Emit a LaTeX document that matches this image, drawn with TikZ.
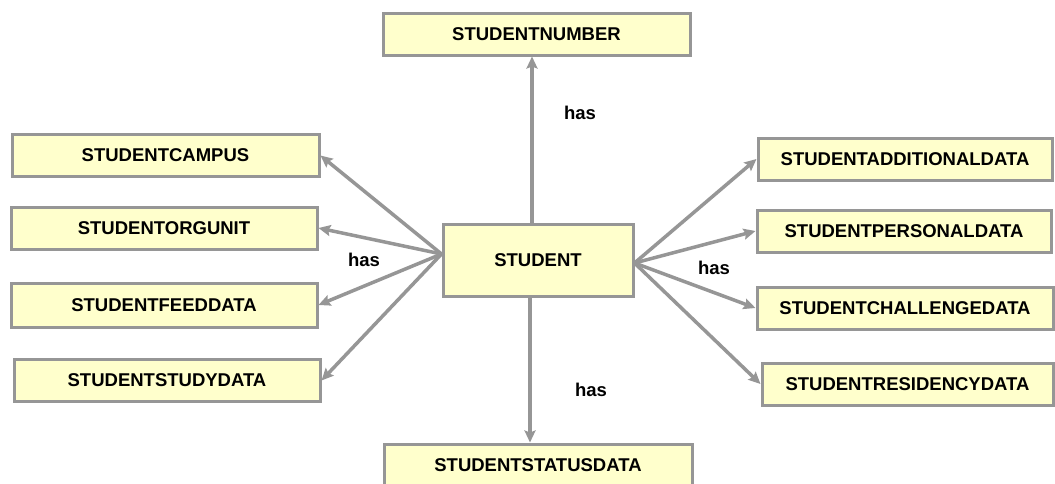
\documentclass[tikz,border=0pt]{standalone}
\usepackage{fontspec}
\setmainfont{Liberation Sans}
\usetikzlibrary{arrows.meta}
\definecolor{boxgray}{RGB}{150,150,150}
\definecolor{boxfill}{RGB}{255,255,204}
\tikzset{entity/.style={draw=boxgray, fill=boxfill, line width=3pt,
   minimum height=42pt, inner sep=0pt, font=\fontsize{18.5}{22}\selectfont\bfseries},
 link/.style={draw=boxgray, line width=3.5pt, -{Stealth[length=12pt,width=11pt,inset=2pt]}},
 rel/.style={font=\fontsize{18.5}{22}\selectfont\bfseries},
 }

\begin{document}
\begin{tikzpicture}[x=1pt, y=-1pt]
        \useasboundingbox (0,0) rectangle (1055,483);
        \node[entity, minimum width=190pt, minimum height=72pt] (student) at (538,260) {STUDENT};
        \node[entity, minimum width=307pt] (number) at (536.5,34) {STUDENTNUMBER};
        \node[entity, minimum width=308pt] (status) at (538,465) {STUDENTSTATUSDATA};
        \node[entity, minimum width=307pt] (campus) at (165.5,155.5) {STUDENTCAMPUS};
        \node[entity, minimum width=306pt] (orgunit) at (164,228) {STUDENTORGUNIT};
        \node[entity, minimum width=306pt, minimum height=44pt] (feed) at (164,305) {STUDENTFEEDDATA};
        \node[entity, minimum width=306pt] (study) at (167,380.5) {STUDENTSTUDYDATA};
        \node[entity, minimum width=294pt] (additional) at (905,159) {STUDENTADDITIONALDATA};
        \node[entity, minimum width=294pt] (personal) at (904,231) {STUDENTPERSONALDATA};
        \node[entity, minimum width=296pt] (challenge) at (905,308) {STUDENTCHALLENGEDATA};
        \node[entity, minimum width=291pt] (residency) at (907.5,384) {STUDENTRESIDENCYDATA};
        % connectors
        \draw[link] ([xshift=-6pt]student.north) -- ([xshift=-6pt]student.north |- number.south);
        \draw[link] ([xshift=-8pt]student.south) -- ([xshift=-8pt]student.south |- status.north);
        \foreach \n in {campus, orgunit, feed, study}
            \draw[link] ([yshift=6pt]student.west) -- (\n.east);
        \foreach \n in {additional, personal, challenge, residency}
            \draw[link] ([yshift=-3pt]student.east) -- (\n.west);
        % labels
        \node[rel] (hastop) at (580,113) {has};
        \node[rel] (hasleft) at (364,260) {has};
        \node[rel] (hasright) at (714,268) {has};
        \node[rel] (hasbottom) at (591,390) {has};
    \end{tikzpicture}
\end{document}
